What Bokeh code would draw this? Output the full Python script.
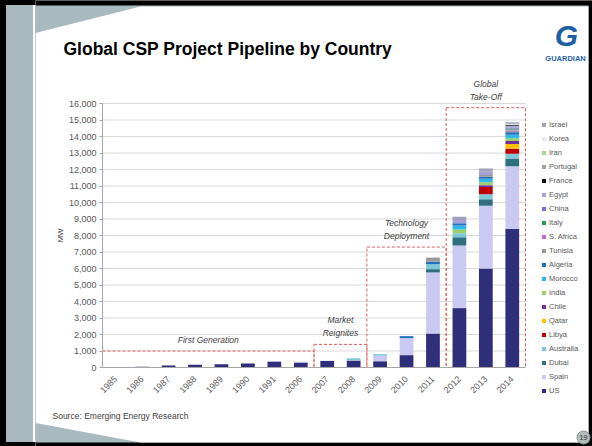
import math
from bokeh.plotting import figure
from bokeh.models import (FactorRange, Range1d, NumeralTickFormatter, FixedTicker,
                          Legend, LegendItem, Label)
from bokeh.core.properties import value
from bokeh.embed import file_html
from bokeh.resources import INLINE

# ---------------- data ----------------
years = ["1985", "1986", "1987", "1988", "1989", "1990", "1991", "2006",
         "2007", "2008", "2009", "2010", "2011", "2012", "2013", "2014"]

countries = ["US", "Spain", "Dubai", "Australia", "Libya", "Qatar", "Chile", "India",
             "Morocco", "Algeria", "Tunisia", "S. Africa", "Italy", "China", "Egypt",
             "France", "Portugal", "Iran", "Korea", "Israel"]

colors = ["#2e2e7a", "#c9c9f2", "#2f6f7f", "#7ec8d8", "#c00000", "#ffc000", "#7030a0", "#9bcf6a",
          "#33b6e8", "#1f6fbf", "#999999", "#cc66dd", "#1e9e50", "#7878c8", "#a8a0d8",
          "#000000", "#a0a0a0", "#a8d890", "#e8e8f8", "#a0a0b8"]

us        = [14, 44, 120, 160, 190, 250, 354, 300, 400, 420, 380, 750, 2060, 3600, 6000, 8400]
spain     = [0, 0, 0, 0, 0, 0, 0, 50, 0, 30, 330, 1030, 3700, 3800, 3800, 3800]
dubai     = [0, 0, 0, 0, 0, 0, 0, 0, 0, 0, 0, 0, 200, 500, 400, 460]
australia = [0, 0, 0, 0, 0, 0, 0, 0, 0, 110, 100, 0, 300, 240, 300, 300]
libya     = [0, 0, 0, 0, 0, 0, 0, 0, 0, 0, 0, 0, 0, 0, 440, 300]
qatar     = [0, 0, 0, 0, 0, 0, 0, 0, 0, 0, 0, 0, 0, 0, 0, 280]
chile     = [0, 0, 0, 0, 0, 0, 0, 0, 0, 0, 0, 0, 0, 0, 100, 180]
india     = [0, 0, 0, 0, 0, 0, 0, 0, 0, 0, 0, 0, 0, 220, 180, 180]
morocco   = [0, 0, 0, 0, 0, 0, 0, 0, 0, 0, 0, 0, 0, 240, 220, 200]
algeria   = [0, 0, 0, 0, 0, 0, 0, 0, 0, 0, 0, 120, 150, 140, 120, 160]
tunisia   = [0, 0, 0, 0, 0, 0, 0, 0, 0, 0, 0, 0, 250, 0, 100, 100]
s_africa  = [0, 0, 0, 0, 0, 0, 0, 0, 0, 0, 0, 0, 0, 0, 0, 60]
italy     = [0, 0, 0, 0, 0, 0, 0, 0, 0, 0, 0, 0, 0, 0, 0, 60]
china     = [0, 0, 0, 0, 0, 0, 0, 0, 0, 0, 0, 0, 0, 0, 0, 60]
egypt     = [0, 0, 0, 0, 0, 0, 0, 0, 0, 0, 0, 0, 0, 200, 200, 100]
france    = [0, 0, 0, 0, 0, 0, 0, 0, 0, 0, 0, 0, 0, 0, 0, 40]
portugal  = [0, 0, 0, 0, 0, 0, 0, 0, 0, 0, 0, 0, 0, 0, 0, 30]
iran      = [0, 0, 0, 0, 0, 0, 0, 0, 0, 0, 0, 0, 0, 0, 0, 30]
korea     = [0, 0, 0, 0, 0, 0, 0, 0, 0, 0, 0, 0, 0, 0, 0, 30]
israel    = [0, 0, 0, 0, 0, 0, 0, 0, 0, 0, 0, 0, 0, 200, 200, 100]

series = [us, spain, dubai, australia, libya, qatar, chile, india, morocco, algeria,
          tunisia, s_africa, italy, china, egypt, france, portugal, iran, korea, israel]

y_max = 16000
y_ticks = list(range(0, y_max + 1, 1000))

phase_labels = ["First Generation", "Market\nReignites", "Technology\nDeployment", "Global\nTake-Off"]
phase_first = ["1985", "2007", "2009", "2012"]
phase_last = ["2006", "2008", "2011", "2014"]
phase_top = [1000, 1400, 7300, 15750]

title_text = "Global CSP Project Pipeline by Country"
source_text = "Source: Emerging Energy Research"
logo_text = "GUARDIAN"
page_text = "19"

# ---------------- layout (pixels) ----------------
W, H = 592, 446
FONT = "Liberation Sans"
AREA_L, AREA_R = 102, 525      # plot area left/right
AREA_T, AREA_B = 103, 367      # plot area top (y_max) / bottom (0)
FRAME_L = AREA_L - (W - AREA_R)

n = len(years)
cat_px = (AREA_R - AREA_L) / n
pad_cats = (W - AREA_R) / cat_px
mw_per_px = y_max / (AREA_B - AREA_T)
y_start = -(H - AREA_B) * mw_per_px
y_end = y_max + AREA_T * mw_per_px


def sx(px_list):
    """page pixel x -> synthetic categorical coordinate"""
    return [(v - AREA_L) / cat_px for v in px_list]


p = figure(width=W, height=H,
           x_range=FactorRange(factors=years, range_padding=2 * pad_cats / n,
                               range_padding_units="percent", factor_padding=0),
           y_range=Range1d(y_start, y_end),
           output_backend="svg", toolbar_location=None,
           min_border_left=FRAME_L, min_border_right=0, min_border_top=0, min_border_bottom=0)
p.extra_y_ranges = {"px": Range1d(H, 0)}
p.outline_line_color = None
p.background_fill_color = "white"
p.border_fill_alpha = 0
p.styles = {"background": "linear-gradient(to bottom, #000 5px, transparent 5px, transparent 442px, #000 442px), "
                          "linear-gradient(to right, #000 6px, #a8b9c0 6px, #a8b9c0 33px, #ffffff 33px)"}

PX = dict(y_range_name="px")

# slide background (page pixels)
p.patch(sx([FRAME_L, W, W, FRAME_L]), [0, 0, H, H], fill_color="#000000", line_color=None, **PX)
p.patch(sx([FRAME_L, 588, 588, FRAME_L]), [5, 5, 442, 442], fill_color="#a8b9c0", line_color=None, **PX)
p.patch(sx([FRAME_L, 140, 588, 588, 140, FRAME_L]), [32.5, 6, 6, 442, 442, 422.4],
        fill_color="#ffffff", line_color=None, **PX)

# gridlines across the plot area only
p.segment(x0=[0] * len(y_ticks), x1=[n] * len(y_ticks), y0=y_ticks, y1=y_ticks,
          line_color="#d9d9d9", line_width=1)

# stacked bars
data = {"year": years}
for c, s in zip(countries, series):
    data[c] = s
renderers = p.vbar_stack(countries, x="year", width=0.52, color=colors, source=data, line_color=None)

# phase boxes and labels
lefts = [years.index(a) for a in phase_first]
rights = [years.index(b) + 1 for b in phase_last]
p.quad(left=lefts, right=rights, bottom=[0] * len(lefts), top=phase_top,
       fill_alpha=0, line_color="#e0605a", line_dash="3 2", line_width=1)
for lab, l, r, t in zip(phase_labels, lefts, rights, phase_top):
    p.add_layout(Label(x=(l + r) / 2, y=t, text=lab, text_align="center", text_baseline="bottom",
                       y_offset=6, text_font=FONT, text_font_style="italic",
                       text_font_size="8.5px", text_color="#404040", text_line_height=1.3))

# axes
p.xgrid.grid_line_color = None
p.ygrid.grid_line_color = None

p.yaxis.fixed_location = 0
p.yaxis.bounds = (0, y_max)
p.yaxis.ticker = FixedTicker(ticks=y_ticks)
p.yaxis.formatter = NumeralTickFormatter(format="0,0")
p.yaxis.axis_label = "MW"
p.yaxis.axis_label_text_font = FONT
p.yaxis.axis_label_text_font_style = "normal"
p.yaxis.axis_label_text_font_size = "8px"
p.yaxis.axis_label_text_color = "#404040"
p.yaxis.axis_label_standoff = 1
p.yaxis.major_label_text_font = FONT
p.yaxis.major_label_text_font_size = "9px"
p.yaxis.major_label_text_color = "#595959"
p.yaxis.major_label_standoff = 3
p.yaxis.axis_line_color = "#a6a6a6"
p.yaxis.major_tick_line_color = "#a6a6a6"
p.yaxis.major_tick_out = 3
p.yaxis.major_tick_in = 0
p.yaxis.minor_tick_line_color = None

p.xaxis.fixed_location = 0
p.xaxis.bounds = (0, n)
p.xaxis.major_label_orientation = math.pi / 4
p.xaxis.major_label_text_font = FONT
p.xaxis.major_label_text_font_size = "9px"
p.xaxis.major_label_text_color = "#606060"
p.xaxis.axis_line_color = "#a6a6a6"
p.xaxis.major_tick_line_color = None
p.xaxis.major_label_standoff = 4

# legend (Israel at top, US at bottom)
items = [LegendItem(label=c, renderers=[r]) for c, r in reversed(list(zip(countries, renderers)))]
legend = Legend(items=items, location=(541 - FRAME_L, 51), orientation="vertical",
                glyph_width=5, glyph_height=5, label_standoff=3, label_height=9, spacing=5,
                padding=0, margin=0, border_line_color=None, background_fill_alpha=0,
                label_text_font=FONT, label_text_font_size="7.5px", label_text_color="#595959")
p.add_layout(legend)

# title, source, logo, page number
F = value(FONT)
p.text(x=sx([63]), y=[48], text=[title_text], text_font=F, text_font_style="bold",
       text_font_size="17.5px", text_color="#000000", text_baseline="alphabetic", **PX)
p.text(x=sx([52]), y=[415], text=[source_text], text_font=F, text_font_size="8.5px",
       text_color="#404040", text_baseline="alphabetic", **PX)
p.text(x=sx([566]), y=[35], text=["G"], text_font=F, text_font_style="bold italic",
       text_font_size="30px", text_color="#1f5fa8", text_align="center",
       text_baseline="middle", **PX)
p.text(x=sx([565]), y=[58], text=[logo_text], text_font=F, text_font_style="bold",
       text_font_size="7.5px", text_color="#1f5fa8", text_align="center",
       text_baseline="alphabetic", **PX)
p.scatter(x=sx([583]), y=[437], size=13, marker="circle", fill_color="#b4bcbc",
          line_color="#8a9494", **PX)
p.text(x=sx([583]), y=[437], text=[page_text], text_font=F, text_font_size="7px",
       text_color="#303030", text_align="center", text_baseline="middle", **PX)

open("out.html", "w").write(file_html(p, INLINE))
